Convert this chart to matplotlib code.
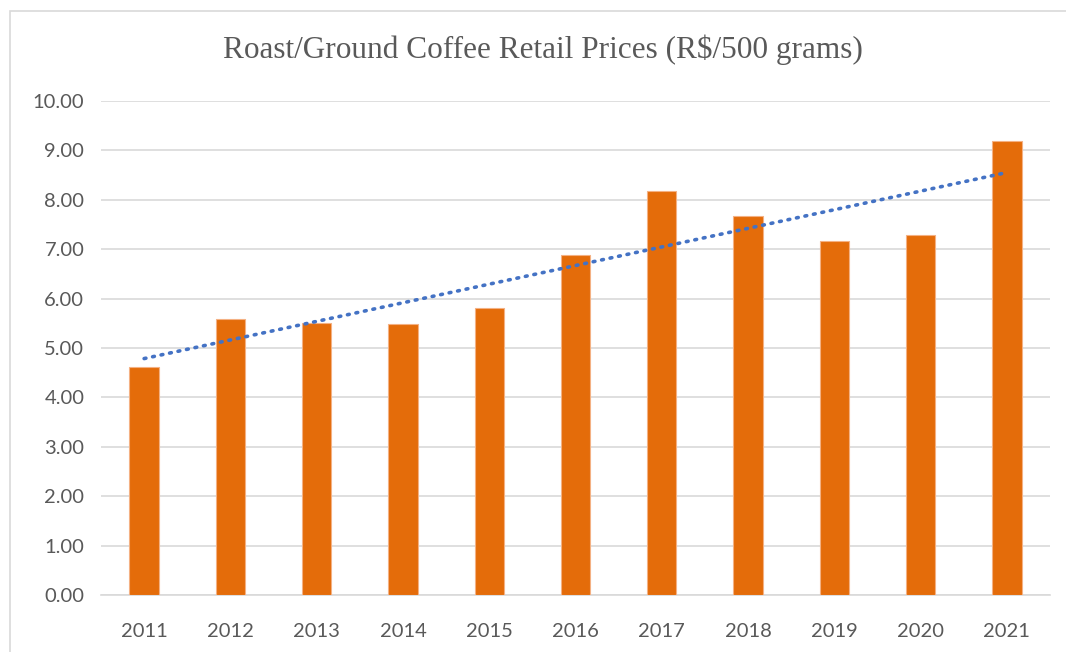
import numpy as np
import matplotlib
matplotlib.use("Agg")
import matplotlib.pyplot as plt
from matplotlib.patches import Rectangle

years = ["2011", "2012", "2013", "2014", "2015", "2016", "2017", "2018", "2019", "2020", "2021"]
prices = [4.61, 5.59, 5.50, 5.48, 5.80, 6.89, 8.18, 7.67, 7.17, 7.28, 9.19]
y_ticks = [0, 1, 2, 3, 4, 5, 6, 7, 8, 9, 10]

W, H = 1066, 652
fig = plt.figure(figsize=(W / 100, H / 100), dpi=100)
ax = fig.add_axes([101 / W, 1 - 595 / H, (1050 - 101) / W, (595 - 101) / H])

x = np.arange(len(years))
ax.bar(x, prices, width=0.34, color="#E46C0A", edgecolor="#F4B183", linewidth=0.8, zorder=3)

# linear trendline, like the Excel one
k, b = np.polyfit(x, prices, 1)
ax.plot(x, k * x + b, color="#4472C4", linestyle=(0, (0.5, 1.9)), linewidth=2.6,
        dash_capstyle="round", zorder=4)

ax.set_xlim(-0.5, len(years) - 0.5)
ax.set_ylim(0, 10)
ax.set_yticks(y_ticks)
ax.set_yticklabels([f"{v:.2f}" for v in y_ticks])
ax.set_xticks(x)
ax.set_xticklabels(years)
ax.grid(axis="y", color="#D9D9D9", linewidth=1.2, zorder=0)
for s in ["top", "right", "left"]:
    ax.spines[s].set_visible(False)
ax.spines["bottom"].set_color("#D9D9D9")
ax.spines["bottom"].set_linewidth(1.2)
ax.tick_params(length=0, labelsize=14.5, labelcolor="#595959")
ax.tick_params(axis="x", pad=20)
ax.tick_params(axis="y", pad=12)
for lab in ax.get_xticklabels() + ax.get_yticklabels():
    lab.set_family(["Lato", "DejaVu Sans"])

fig.text(543 / W, 1 - 50 / H, "Roast/Ground Coffee Retail Prices (R$/500 grams)",
         ha="center", va="center", fontsize=22.5, color="#595959",
         family=["Liberation Serif", "DejaVu Serif"])

fig.patches.append(Rectangle((10 / W, -0.05), 1.2, 1 - 11 / H + 0.05, transform=fig.transFigure,
                             fill=False, edgecolor="#D9D9D9", linewidth=1.2))

fig.savefig("out.png", dpi=100)
